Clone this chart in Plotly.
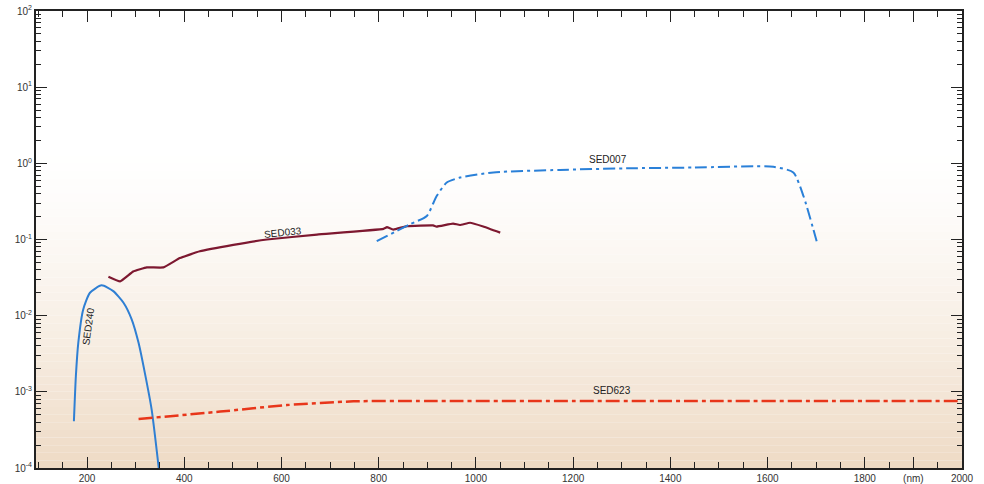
import plotly.graph_objects as go

# ---- data ----
sed240_nm = [173, 177, 182, 192, 206, 230, 254, 275, 292, 306, 319, 333, 348]
sed240_val = [4.1e-4, 1.6e-3, 4.4e-3, 0.012, 0.020, 0.025, 0.021, 0.0148, 0.0089, 0.0044, 0.00176, 5.8e-4, 9.4e-5]

sed033_nm = [244, 268, 295, 323, 357, 391, 432, 501, 570, 673, 810, 817, 830, 858, 912, 919, 953, 967, 988, 1015, 1050]
sed033_val = [0.0324, 0.0282, 0.038, 0.043, 0.043, 0.057, 0.070, 0.085, 0.100, 0.116, 0.138, 0.145, 0.135,
              0.150, 0.153, 0.148, 0.162, 0.155, 0.166, 0.148, 0.123]

sed007_nm = [796, 864, 899, 919, 940, 967, 1036, 1173, 1310, 1447, 1612, 1653, 1674, 1701]
sed007_val = [0.095, 0.158, 0.204, 0.37, 0.56, 0.65, 0.76, 0.82, 0.86, 0.88, 0.90, 0.76, 0.37, 0.095]

sed623_nm = [306, 474, 611, 748, 900, 1200, 1500, 1800, 2000]
sed623_val = [4.4e-4, 5.5e-4, 6.7e-4, 7.5e-4, 7.6e-4, 7.6e-4, 7.6e-4, 7.6e-4, 7.6e-4]

x_tickvals = [200, 400, 600, 800, 1000, 1200, 1400, 1600, 1800, 1900, 2000]
x_ticktext = ["200", "400", "600", "800", "1000", "1200", "1400", "1600", "1800", "(nm)", "2000"]
y_exponents = [-4, -3, -2, -1, 0, 1, 2]

fig = go.Figure()

fig.add_trace(go.Scatter(x=sed240_nm, y=sed240_val, mode="lines", name="SED240",
                         line=dict(color="#2f7fd3", width=2, shape="spline", smoothing=0.6)))
fig.add_trace(go.Scatter(x=sed033_nm, y=sed033_val, mode="lines", name="SED033",
                         line=dict(color="#7d1830", width=2.2, shape="spline", smoothing=0.3)))
fig.add_trace(go.Scatter(x=sed007_nm, y=sed007_val, mode="lines", name="SED007",
                         line=dict(color="#2a80d8", width=2, dash="12px,4px,3px,4px",
                                   shape="spline", smoothing=0.6)))
fig.add_trace(go.Scatter(x=sed623_nm, y=sed623_val, mode="lines", name="SED623",
                         line=dict(color="#e8361a", width=2.5, dash="14px,4px,4px,4px",
                                   shape="spline", smoothing=0.6)))

# background gradient (white at top -> tan at bottom)
n = 60
top = (255, 255, 255)
bot = (238, 218, 196)
shapes = []
for i in range(n):
    t = (i + 0.5) / n  # 0 top, 1 bottom
    b = max(0.0, (t - 0.3) / 0.7) ** 1.4
    c = tuple(int(round(top[k] + (bot[k] - top[k]) * b)) for k in range(3))
    shapes.append(dict(type="rect", xref="x domain", yref="y domain",
                       x0=0, x1=1, y0=1 - (i + 1) / n, y1=1 - i / n,
                       fillcolor="rgb(%d,%d,%d)" % c, line=dict(width=0), layer="below"))

font_small = dict(family="Liberation Sans, Arial, sans-serif", size=10, color="#333")

minor_x = [v for v in range(100, 2001, 50) if v % 200 != 0]
minor_y = [m * 10 ** e for e in range(-4, 2) for m in range(2, 10)]

fig.update_layout(
    width=984, height=484,
    margin=dict(l=36, r=22, t=11, b=16, autoexpand=False),
    paper_bgcolor="white", plot_bgcolor="white",
    showlegend=False,
    shapes=shapes,
    font=font_small,
    xaxis=dict(range=[95, 2000], tickmode="array", tickvals=x_tickvals, ticktext=x_ticktext,
               ticks="inside", ticklen=11, tickwidth=1, tickcolor="#222",
               showline=True, linecolor="#222", linewidth=2, mirror="ticks",
               showgrid=False, zeroline=False, tickfont=font_small, automargin=False,
               minor=dict(tickmode="array", tickvals=minor_x, ticks="inside", ticklen=6,
                          tickwidth=1, tickcolor="#222", showgrid=False)),
    yaxis=dict(type="log", range=[-4, 2], tickmode="array",
               tickvals=[10 ** e for e in y_exponents],
               ticktext=["10<sup>%d</sup>" % e for e in y_exponents],
               ticks="inside", ticklen=11, tickwidth=1, tickcolor="#222",
               showline=True, linecolor="#222", linewidth=2, mirror="ticks",
               showgrid=False, zeroline=False, tickfont=font_small, automargin=False,
               minor=dict(tickmode="array", tickvals=minor_y, ticks="inside", ticklen=5,
                          tickwidth=1, tickcolor="#222", showgrid=False)),
)

lab = dict(family="Liberation Sans, Arial, sans-serif", size=10, color="#222")
fig.add_annotation(x=1272, y=0.053, text="SED007", showarrow=False, font=lab)
fig.add_annotation(x=603, y=-0.908, text="SED033", showarrow=False, font=lab, textangle=-6)
fig.add_annotation(x=203, y=-2.145, text="SED240", showarrow=False, font=lab, textangle=-82)
fig.add_annotation(x=1280, y=-2.987, text="SED623", showarrow=False, font=lab)

fig.write_html("out.html", config={"displayModeBar": False},
               post_script="document.body.style.margin='0';document.body.style.overflow='hidden';")
